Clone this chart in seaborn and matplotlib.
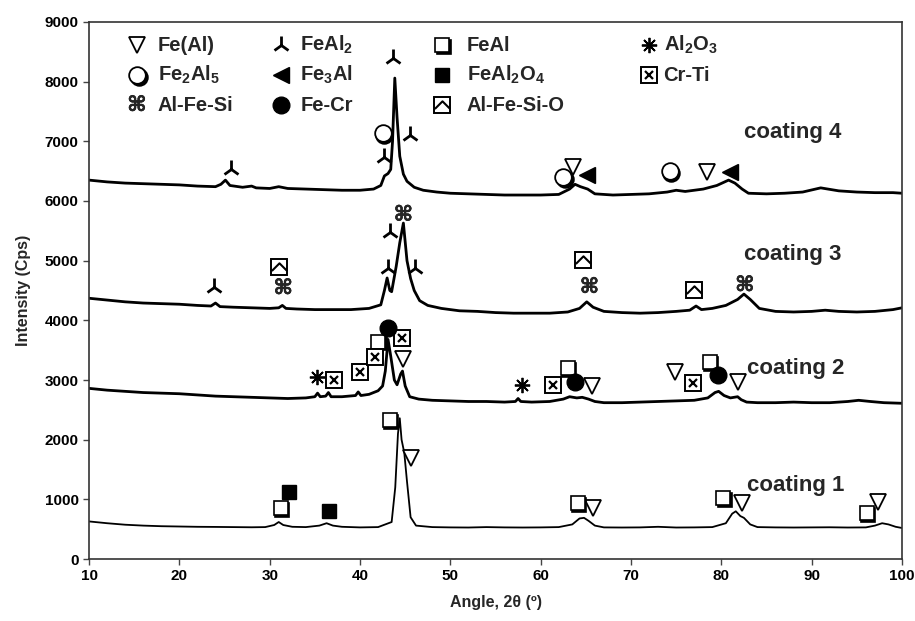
import numpy as np
import pandas as pd
import matplotlib
matplotlib.use("Agg")
import matplotlib.pyplot as plt
import matplotlib.transforms as mtransforms
import matplotlib.patheffects as pe
from matplotlib.path import Path
import seaborn as sns

# ---------------- data ----------------
c1_x = [10, 12, 14, 16, 18, 20, 22, 24, 26, 28, 29.5, 30.5, 31, 31.5, 32.5, 34, 35.5, 36.3, 37, 38, 40, 42,
        43.5, 43.9, 44.2, 44.4, 44.6, 44.9, 45.2, 45.6, 46.2, 48, 50, 52, 54, 56, 58, 60, 62, 63.5, 64.3, 64.8,
        65.3, 66, 67, 69, 71, 73, 75, 77, 79, 80.5, 81.2, 81.6, 82.1, 82.5, 83.2, 84, 86, 88, 90, 92, 94, 96,
        97, 97.8, 98.5, 99.3, 100]
c1_y = [630, 600, 575, 560, 550, 545, 540, 538, 535, 532, 535, 570, 620, 570, 540, 535, 560, 600, 560, 540, 530, 535,
        620, 1200, 2100, 2360, 2000, 1780, 1300, 700, 560, 535, 530, 528, 535, 530, 528, 530, 535, 580, 680, 690,
        640, 560, 530, 528, 530, 540, 528, 530, 535, 600, 760, 800, 720, 690, 580, 535, 530, 528, 530, 532, 528, 530,
        560, 600, 580, 540, 520]

c2_x = [10, 12, 14, 16, 18, 20, 22, 24, 26, 28, 30, 32, 34, 35, 35.3, 35.6, 36.2, 36.5, 36.8, 38, 39.5, 39.8, 40.1,
        41, 42, 42.5, 42.8, 43.1, 43.4, 43.8, 44.1, 44.5, 44.7, 45.0, 45.5, 46.5, 48, 50, 52, 54, 56, 57.2, 57.5,
        57.8, 59, 61, 62.5, 63.2, 64, 64.6, 65.3, 66, 67, 69, 71, 73, 75, 77, 78.5, 79.3, 79.7, 80.3, 81, 81.8,
        82.2, 82.8, 84, 86, 88, 90, 92, 94, 95.2, 96.5, 98, 100]
c2_y = [2860, 2830, 2810, 2790, 2780, 2770, 2750, 2730, 2720, 2710, 2700, 2690, 2700, 2720, 2780, 2720, 2730, 2790,
        2720, 2720, 2740, 2800, 2740, 2760, 2820, 2900, 3150, 3680, 3400, 3000, 2920, 3100, 3150, 2900, 2720, 2680,
        2660, 2650, 2640, 2640, 2630, 2640, 2690, 2640, 2630, 2640, 2680, 2720, 2700, 2710, 2680, 2640, 2620, 2620,
        2630, 2640, 2650, 2660, 2700, 2790, 2810, 2740, 2700, 2720, 2670, 2630, 2620, 2620, 2630, 2620, 2620, 2640,
        2660, 2640, 2620, 2610]

c3_x = [10, 12, 14, 16, 18, 20, 22, 23.5, 24.0, 24.5, 26, 28, 30, 31, 31.4, 31.8, 33, 35, 37, 39, 41, 42.3, 42.7,
        43.0, 43.3, 43.5, 44.0, 44.4, 44.8, 45.2, 45.6, 46.0, 46.6, 47.5, 49, 51, 53, 55, 57, 59, 61, 63, 64.3,
        65.1, 65.8, 67, 69, 71, 73, 75, 76.5, 77.2, 77.8, 79, 80.5, 81.8, 82.5, 83.2, 84.2, 86, 88, 90, 91.5, 93,
        95, 97, 99, 100]
c3_y = [4370, 4340, 4310, 4290, 4280, 4270, 4250, 4240, 4290, 4230, 4220, 4210, 4200, 4210, 4250, 4200, 4190, 4180,
        4180, 4180, 4200, 4260, 4500, 4710, 4500, 4480, 4900, 5300, 5630, 5000, 4700, 4500, 4330, 4250, 4200, 4160,
        4150, 4130, 4120, 4120, 4120, 4140, 4200, 4310, 4220, 4150, 4130, 4120, 4130, 4150, 4170, 4240, 4180, 4200,
        4250, 4350, 4440, 4350, 4200, 4150, 4140, 4150, 4170, 4150, 4140, 4150, 4180, 4210]

c4_x = [10, 12, 14, 16, 18, 20, 22, 24, 24.6, 25.1, 25.6, 27, 28, 28.5, 30, 31, 32, 34, 36, 38, 40, 41.5, 42.3,
        42.7, 43.1, 43.4, 43.6, 43.85, 44.1, 44.4, 44.8, 45.2, 46, 47, 48.5, 50, 52, 54, 56, 58, 60, 62, 63.2,
        63.8, 64.4, 65.2, 66, 68, 70, 72, 74, 75, 76, 78, 79.5, 80.8, 81.5, 82.3, 83, 85, 87, 89, 91, 93, 95, 97,
        99, 100]
c4_y = [6350, 6320, 6300, 6290, 6280, 6270, 6250, 6240, 6280, 6350, 6260, 6230, 6250, 6220, 6210, 6240, 6210, 6200,
        6190, 6180, 6180, 6200, 6260, 6420, 6460, 6530, 7000, 8060, 7400, 6750, 6450, 6330, 6230, 6180, 6150, 6130,
        6120, 6110, 6100, 6100, 6100, 6110, 6200, 6280, 6240, 6200, 6120, 6100, 6110, 6120, 6150, 6180, 6160, 6200,
        6260, 6350, 6300, 6200, 6130, 6120, 6130, 6150, 6220, 6170, 6150, 6140, 6140, 6130]

# phase marker positions (angle, intensity)
feal_fe_x = [45.6, 65.8, 82.3, 97.3, 44.8, 65.7, 74.9, 81.8, 63.6, 78.4]
feal_fe_y = [1690, 850, 940, 950, 3350, 2900, 3130, 2970, 6570, 6490]
feal2_x = [25.7, 42.7, 43.7, 45.5, 23.8, 43.1, 43.3, 46.1]
feal2_y = [6540, 6740, 8390, 7110, 4560, 4880, 5480, 4880]
feal_x = [31.2, 43.3, 64.1, 80.2, 96.1, 42.0, 63.0, 78.7]
feal_y = [850, 2330, 940, 1020, 770, 3640, 3200, 3300]
al2o3_x = [35.2, 57.9]
al2o3_y = [3050, 2920]
fe2al5_x = [42.5, 62.5, 74.3]
fe2al5_y = [7140, 6400, 6500]
fe3al_x = [65.1, 81.0]
fe3al_y = [6430, 6490]
feal2o4_x = [32.1, 36.6]
feal2o4_y = [1130, 800]
crti_x = [37.1, 40.0, 41.7, 44.7, 61.4, 76.9]
crti_y = [3000, 3130, 3390, 3700, 2920, 2950]
alfesi_x = [31.5, 44.8, 65.4, 82.6]
alfesi_y = [4540, 5770, 4560, 4590]
fecr_x = [43.1, 63.8, 79.6]
fecr_y = [3870, 2970, 3080]
alfesio_x = [31.0, 64.7, 77.0]
alfesio_y = [4890, 5010, 4510]

coating_labels = ["coating 1", "coating 2", "coating 3", "coating 4"]
coating_label_x = [82.8, 82.8, 82.5, 82.5]
coating_label_y = [1240, 3200, 5100, 7150]

legend_labels = [["Fe(Al)", "FeAl$_2$", "FeAl", "Al$_2$O$_3$"],
                 ["Fe$_2$Al$_5$", "Fe$_3$Al", "FeAl$_2$O$_4$", "Cr-Ti"],
                 ["Al-Fe-Si", "Fe-Cr", "Al-Fe-Si-O", None]]
legend_kinds = [["tri_down", "feal2", "osq", "ast"],
                ["ocirc", "ltri", "fsq", "crti"],
                ["cmd", "fcirc", "alfesio", None]]
legend_sym_x = [15.3, 31.3, 49.1, 72.0]
legend_txt_x = [17.6, 33.4, 51.8, 73.6]
legend_row_y = [8614, 8111, 7608]

# ---------------- styling ----------------
sns.set_style("ticks")
plt.rcParams["font.family"] = ["Liberation Sans", "DejaVu Sans"]
plt.rcParams["font.weight"] = "bold"
plt.rcParams["mathtext.fontset"] = "custom"
plt.rcParams["mathtext.rm"] = "Liberation Sans:bold"
plt.rcParams["mathtext.it"] = "Liberation Sans:bold"
plt.rcParams["mathtext.bf"] = "Liberation Sans:bold"
plt.rcParams["mathtext.default"] = "rm"

fig = plt.figure(figsize=(9.15, 6.21), dpi=100)
ax = fig.add_axes([0.0973, 0.0998, 0.8885, 0.8648])

curves = [(c1_x, c1_y, 1.3), (c2_x, c2_y, 2.0), (c3_x, c3_y, 2.0), (c4_x, c4_y, 2.0)]
for cx, cy, lw in curves:
    df = pd.DataFrame({"angle": cx, "intensity": cy})
    sns.lineplot(data=df, x="angle", y="intensity", color="black", lw=lw, ax=ax,
                 estimator=None, sort=False, zorder=2)

shadow = mtransforms.offset_copy(ax.transData, fig=fig, x=1.6, y=-1.6, units="dots")
chevron = Path([(-0.55, -0.25), (0, 0.3), (0.55, -0.25)], [Path.MOVETO, Path.LINETO, Path.LINETO])


def mark(kind, xs, ys):
    kw = dict(ls="none", clip_on=False, zorder=5)
    if kind == "tri_down":
        ax.plot(xs, ys, marker="v", ms=12, mfc="white", mec="black", mew=1.3, **kw)
    elif kind == "feal2":
        ax.plot(xs, ys, marker="2", ms=13, mec="black", mew=2.0, **kw)
    elif kind == "osq":
        ax.plot(xs, ys, marker="s", ms=10, mfc="black", mec="black", mew=1.2, transform=shadow, **kw)
        ax.plot(xs, ys, marker="s", ms=10, mfc="white", mec="black", mew=1.2, **kw)
    elif kind == "ast":
        ax.plot(xs, ys, marker=(8, 2, 0), ms=11, mec="black", mew=1.3, **kw)
    elif kind == "ocirc":
        ax.plot(xs, ys, marker="o", ms=12, mfc="black", mec="black", mew=1.3, transform=shadow, **kw)
        ax.plot(xs, ys, marker="o", ms=12, mfc="white", mec="black", mew=1.3, **kw)
    elif kind == "ltri":
        ax.plot(xs, ys, marker="<", ms=11, mfc="black", mec="black", **kw)
    elif kind == "fsq":
        ax.plot(xs, ys, marker="s", ms=10, mfc="black", mec="black", **kw)
    elif kind == "crti":
        ax.plot(xs, ys, marker="s", ms=11, mfc="white", mec="black", mew=1.4, **kw)
        ax.plot(xs, ys, marker="x", ms=6, mec="black", mew=1.6, **kw)
    elif kind == "cmd":
        for x, y in zip(xs, ys):
            ax.text(x, y, "\u2318", ha="center", va="center", fontsize=15,
                    family=["DejaVu Sans"], fontweight="bold", zorder=5,
                    path_effects=[pe.withStroke(linewidth=0.4, foreground="black")])
    elif kind == "fcirc":
        ax.plot(xs, ys, marker="o", ms=12, mfc="black", mec="black", **kw)
    elif kind == "alfesio":
        ax.plot(xs, ys, marker="s", ms=11, mfc="white", mec="black", mew=1.4, **kw)
        ax.plot(xs, ys, marker=chevron, ms=11, mfc="none", mec="black", mew=1.5, **kw)


mark("tri_down", feal_fe_x, feal_fe_y)
mark("feal2", feal2_x, feal2_y)
mark("osq", feal_x, feal_y)
mark("ast", al2o3_x, al2o3_y)
mark("ocirc", fe2al5_x, fe2al5_y)
mark("ltri", fe3al_x, fe3al_y)
mark("fsq", feal2o4_x, feal2o4_y)
mark("crti", crti_x, crti_y)
mark("cmd", alfesi_x, alfesi_y)
mark("fcirc", fecr_x, fecr_y)
mark("alfesio", alfesio_x, alfesio_y)

# in-plot legend
for r, row in enumerate(legend_labels):
    for c, lab in enumerate(row):
        if lab is None:
            continue
        mark(legend_kinds[r][c], [legend_sym_x[c]], [legend_row_y[r]])
        ax.text(legend_txt_x[c], legend_row_y[r], lab, ha="left", va="center",
                fontsize=14.5, fontweight="bold", zorder=6)

for lab, lx, ly in zip(coating_labels, coating_label_x, coating_label_y):
    ax.text(lx, ly, lab, ha="left", va="center", fontsize=16, fontweight="bold", zorder=6)

ax.set_xlim(10, 100)
ax.set_ylim(0, 9000)
ax.set_xticks(np.arange(10, 101, 10))
ax.set_yticks(np.arange(0, 9001, 1000))
ax.tick_params(axis="both", direction="out", length=4, width=1, labelsize=11, colors="#444444",
               labelcolor="black")
for lab in ax.get_xticklabels() + ax.get_yticklabels():
    lab.set_fontweight("bold")
for sp in ax.spines.values():
    sp.set_visible(True)
    sp.set_linewidth(1.2)
    sp.set_color("#333333")
ax.set_xlabel("Angle, 2\u03b8 (\u00ba)", fontsize=11.5, fontweight="bold", labelpad=8)
ax.set_ylabel("Intensity (Cps)", fontsize=11.5, fontweight="bold", labelpad=10)

fig.savefig("out.png", dpi=100)
